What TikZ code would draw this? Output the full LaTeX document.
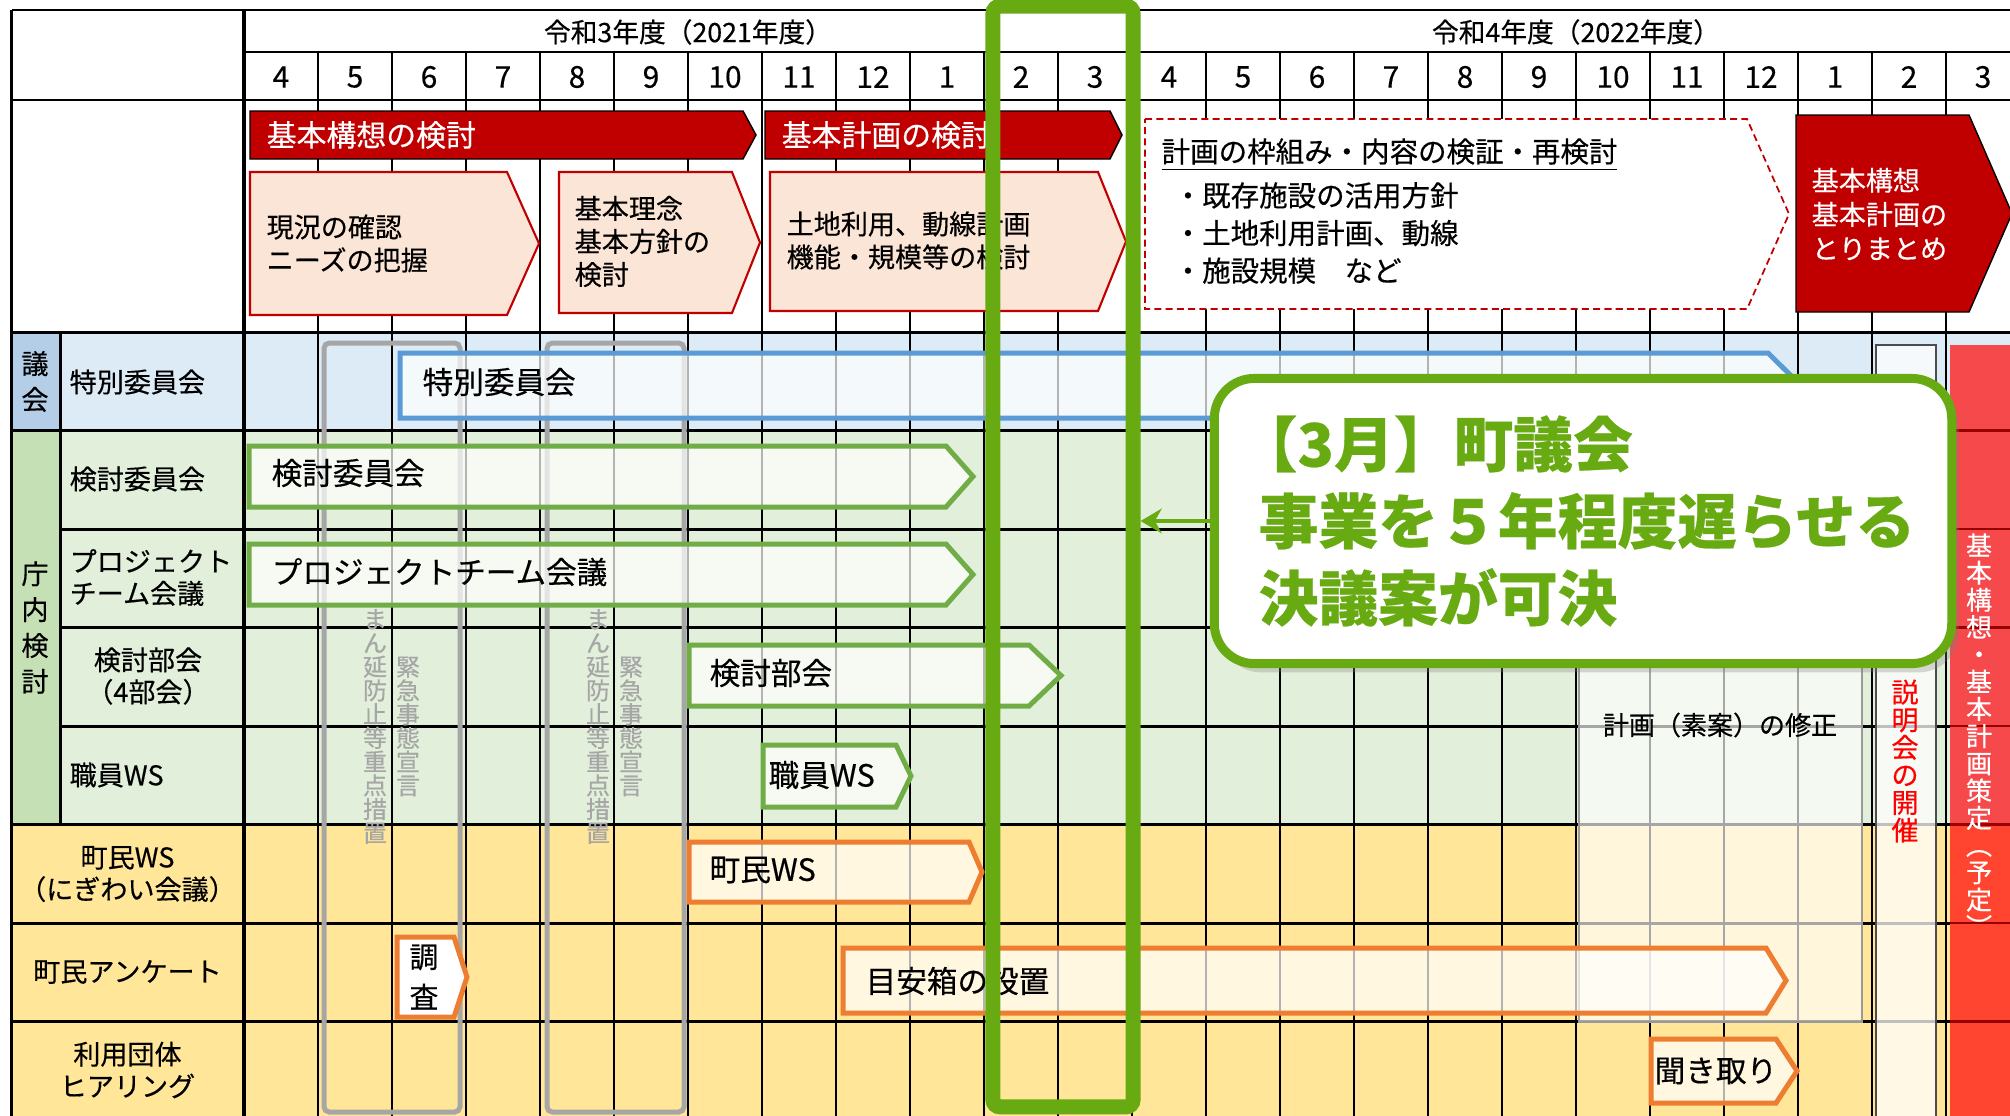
\documentclass[tikz,border=0pt]{standalone}
\usepackage{fontspec}
\setmainfont{Noto Sans CJK JP}[FakeBold=0.4]
\usepackage{xcolor}
\definecolor{kred}{RGB}{192,0,0}
\definecolor{kpink}{RGB}{251,229,214}
\definecolor{kblue}{RGB}{91,155,213}
\definecolor{kblueL}{RGB}{221,235,247}
\definecolor{kblueD}{RGB}{180,206,232}
\definecolor{kgreen}{RGB}{112,173,71}
\definecolor{kgreenL}{RGB}{226,239,218}
\definecolor{kgreenD}{RGB}{197,224,180}
\definecolor{kyellow}{RGB}{255,230,153}
\definecolor{korange}{RGB}{237,125,49}
\definecolor{kgray}{RGB}{166,166,166}
\definecolor{vgreen}{RGB}{104,170,18}
\definecolor{redbar}{RGB}{245,73,75}
\definecolor{redbarB}{RGB}{255,69,48}
\usetikzlibrary{
    arrows.meta,
    shadows
}
\tikzstyle{rowline} = [line width=0.85pt]
\tikzstyle{monthline} = [line width=0.7pt]
\tikzstyle{monthno} = [inner sep=0, font=\fontsize{8.5}{10}\selectfont]
\tikzstyle{fyhead} = [inner sep=0, font=\fontsize{7.6}{9}\selectfont]
\tikzstyle{rowname} = [
    inner sep=0, anchor=west, align=left,
    font=\fontsize{7.7}{9.1}\selectfont
]
\tikzstyle{rowmid} = [
    inner sep=0, align=center,
    font=\fontsize{7.7}{9.1}\selectfont
]
\tikzstyle{grouptext} = [inner sep=0, align=center, font=\fontsize{7.7}{10.2}\selectfont]
\tikzstyle{bannertext} = [inner sep=0, anchor=west, text=white, font=\fontsize{8.5}{10}\selectfont]
\tikzstyle{stagebox} = [fill=kpink, draw=kred, line width=0.6pt]
\tikzstyle{stagetext} = [
    inner sep=0, anchor=west, align=left,
    font=\fontsize{7.7}{9.4}\selectfont
]
\tikzstyle{dashbox} = [fill=white, draw=kred, line width=0.5pt, dash pattern=on 2pt off 1.2pt]
\tikzstyle{barbox} = [fill=white, fill opacity=0.7, line width=1.42pt]
\tikzstyle{bartext} = [inner sep=0, anchor=west, font=\fontsize{8.7}{10}\selectfont]
\tikzstyle{emerg} = [draw=kgray, line width=1.42pt, rounded corners=1.5pt]
\tikzstyle{tategray} = [inner sep=0, align=center, text=kgray, font=\fontsize{6.8}{6.75}\selectfont]
\tikzstyle{notebox} = [
    draw=vgreen,
    line width=2.56pt,
    fill=white,
    rounded corners=0.4cm,
    minimum width=7.37cm,
    minimum height=2.85cm,
    drop shadow={opacity=0.3, shadow xshift=2pt, shadow yshift=-2.5pt}
]
\tikzstyle{notetext} = [
    inner sep=0, anchor=west, align=left, text=vgreen,
    font=\fontsize{17}{21.9}\selectfont\bfseries
]
\newcommand{\pentbox}[6][]{%
  \draw[#1] (#2,#3) -- (#4,#3) -- (#5,{(#3+#6)/2}) -- (#4,#6) -- (#2,#6) -- cycle;}

\begin{document}
\begin{tikzpicture}[x=0.01cm, y=-0.01cm]
\useasboundingbox (0,0) rectangle (2010,1115);
\fill[white] (0,0) rectangle (2010,1115);

% row bands
\fill[kblueL] (11.5,332) rectangle (2010,430.5);
\fill[kblueD] (11.5,332) rectangle (60.6,430.5);
\fill[kgreenL] (11.5,430.5) rectangle (2010,824.5);
\fill[kgreenD] (11.5,430.5) rectangle (60.6,824.5);
\fill[kyellow] (11.5,824.5) rectangle (2010,1120);

\foreach \k in {1,...,23}
    \draw[monthline] ({244+74*\k},52) -- ({244+74*\k},1120);
\draw[monthline] (1132,10) -- (1132,52);
\draw[rowline] (11.5,10) -- (2010,10);
\draw[rowline] (244,52) -- (2010,52);
\draw[rowline] (11.5,10) -- (11.5,1120);
\draw[line width=1pt] (244,10) -- (244,1120);
\draw[rowline] (60.6,332) -- (60.6,824.5);
\foreach \y in {100,332,430.5,824.5,923,1021.5}
    \draw[rowline] (11.5,\y) -- (2010,\y);
\foreach \y in {529,627.5,726}
    \draw[rowline] (60.6,\y) -- (2010,\y);

\node[fyhead] (fy2021) at (688,32) {令和3年度（2021年度）};
\node[fyhead] (fy2022) at (1576,32) {令和4年度（2022年度）};
\foreach \m [count=\i from 0] in {4,5,6,7,8,9,10,11,12,1,2,3,4,5,6,7,8,9,10,11,12,1,2,3}
    \node[monthno] (m\i) at ({281+74*\i},77) {\m};

\node[grouptext] (gikai) at (35,381.5) {議\\会};
\node[grouptext] (chonai) at (35,627.5) {庁\\内\\検\\討};
\node[rowname] (r1) at (69,382) {特別委員会};
\node[rowname] (r2) at (69,479) {検討委員会};
\node[rowname] (r3) at (69,577.5) {プロジェクト\\チーム会議};
\node[rowmid] (r4) at (148,676) {検討部会\\（4部会）};
\node[rowname] (r5) at (69,775) {職員WS};
\node[rowmid] (r6) at (127.5,874) {町民WS\\（にぎわい会議）};
\node[rowmid] (r7) at (127.5,972) {町民アンケート};
\node[rowmid] (r8) at (127.5,1070) {利用団体\\ヒアリング};

\pentbox[fill=kred]{250}{111}{743}{756}{159}
\node[bannertext] (kousou) at (266,135) {基本構想の検討};
\pentbox[fill=kred]{765}{111}{1110}{1122}{159}
\node[bannertext] (keikaku) at (781,135) {基本計画の検討};
\pentbox[stagebox]{250}{172}{507}{539}{315}
\node[stagetext] (st1) at (266,243.5) {現況の確認\\ニーズの把握};
\pentbox[stagebox]{559}{172}{732}{760}{313}
\node[stagetext] (st2) at (574,241.5) {基本理念\\基本方針の\\検討};
\pentbox[stagebox]{770}{172}{1098}{1126}{311}
\node[stagetext] (st3) at (786,240.5) {土地利用、動線計画\\機能・規模等の検討};
\pentbox[dashbox]{1145}{119}{1747}{1789}{309}
\node[stagetext, font=\fontsize{8.1}{10}\selectfont] (review) at (1161,155)
    {\underline{計画の枠組み・内容の検証・再検討}};
\node[stagetext, font=\fontsize{8.1}{10.7}\selectfont] (reviewlist) at (1173,233)
    {・既存施設の活用方針\\・土地利用計画、動線\\・施設規模　など};
\pentbox[fill=kred]{1796}{115}{1969}{2012}{312}
\node[stagetext, text=white, font=\fontsize{7.7}{9.7}\selectfont] (matome) at (1811,214)
    {基本構想\\基本計画の\\とりまとめ};

% まん延防止・緊急事態
\draw[emerg] (324,343) rectangle (460,1112);
\draw[emerg] (547,343) rectangle (684,1112);
\node[tategray] (manen1) at (375,726.5) {ま\\ん\\延\\防\\止\\等\\重\\点\\措\\置};
\node[tategray] (kinkyu1) at (408,726.5) {緊\\急\\事\\態\\宣\\言};
\node[tategray] (manen2) at (598,726.5) {ま\\ん\\延\\防\\止\\等\\重\\点\\措\\置};
\node[tategray] (kinkyu2) at (631,726.5) {緊\\急\\事\\態\\宣\\言};

\draw[draw=gray!80, line width=0.4pt, fill=white, fill opacity=0.65] (1579,430) rectangle (1862,1022);
\node[rowmid, font=\fontsize{7.4}{9}\selectfont] (shusei) at (1720,725) {計画（素案）の修正};

\draw[fill=white, fill opacity=0.75, draw=black!70, line width=0.4pt] (1876,345) rectangle (1936,1120);
\node[inner sep=0, align=center, text=red, font=\fontsize{7.7}{7.85}\selectfont] (setsumei) at (1905,761)
    {説\\明\\会\\の\\開\\催};
\fill[redbar] (1950,345) rectangle (2012,824.5);
\fill[redbarB] (1950,824.5) rectangle (2012,1120);
\foreach \y in {430.5,529,627.5,726,824.5,923,1021.5}
    \draw[monthline, draw=red!60!black] (1950,\y) -- (2012,\y);
\node[inner sep=0, align=center, text=white, font=\fontsize{7.4}{7.75}\selectfont] (sakutei) at (1979,735)
    {基\\本\\構\\想\\・\\基\\本\\計\\画\\策\\定\\︵\\予\\定\\︶};

\pentbox[barbox, draw=kblue]{400}{353}{1768}{1801}{418}
\node[bartext] (b1) at (422,382) {特別委員会};
\pentbox[barbox, draw=kgreen]{249}{446}{946}{973}{507}
\node[bartext] (b2) at (271,473) {検討委員会};
\pentbox[barbox, draw=kgreen]{249}{544}{946}{973}{605}
\node[bartext] (b3) at (271,572) {プロジェクトチーム会議};
\pentbox[barbox, draw=kgreen]{689}{645}{1029}{1061}{706}
\node[bartext] (b4) at (709,673) {検討部会};
\pentbox[barbox, draw=kgreen]{763}{745}{896}{911}{807}
\node[bartext] (b5) at (768,775) {職員WS};
\pentbox[barbox, draw=korange]{689}{842}{969}{982}{902}
\node[bartext] (b6) at (709,870) {町民WS};
\pentbox[barbox, fill opacity=1, draw=korange]{397}{937}{454}{467}{1017}
\node[inner sep=0, align=center, font=\fontsize{8.2}{11.4}\selectfont] (b7) at (424,977) {調\\査};
\pentbox[barbox, draw=korange]{843}{948}{1766}{1786}{1013}
\node[bartext] (b8) at (865,981) {目安箱の設置};
\pentbox[barbox, draw=korange]{1651}{1039}{1776}{1797}{1103}
\node[bartext] (b9) at (1654,1071) {聞き取り};

\node[draw=vgreen, line width=4.27pt, rounded corners=2pt,
      minimum width=1.40cm, minimum height=11.0cm] (gline) at (1063,556.5) {};
\node[notebox] (note) at (1583,521) {};
\node[notetext] (notemsg) at (1258,521) {\kern-0.35em【3月】町議会\\事業を５年程度遅らせる\\決議案が可決};
\draw[vgreen, line width=1.1pt, -{Stealth[length=6pt, width=7pt]}] (note.west) -- (note.west -| gline.east);

\end{tikzpicture}
\end{document}
